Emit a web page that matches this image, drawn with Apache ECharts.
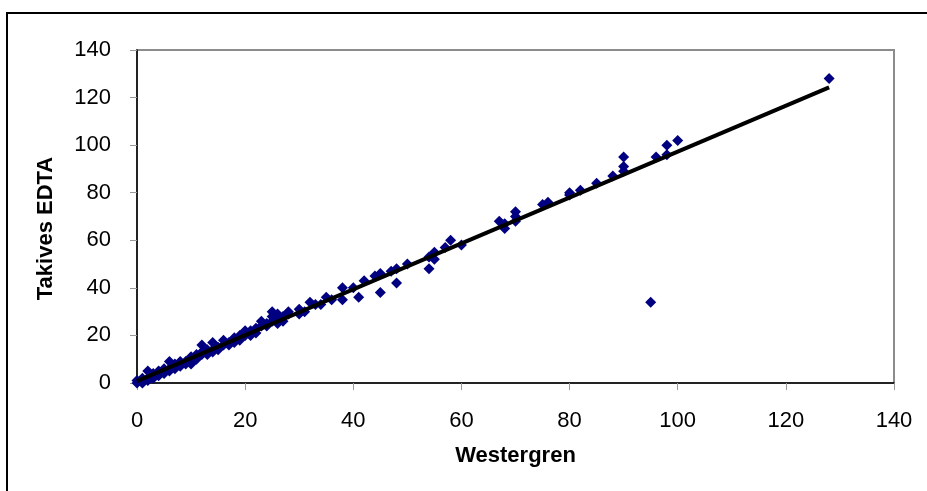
<!DOCTYPE html>
<html>
<head>
<meta charset="utf-8">
<title>Westergren vs Takives EDTA</title>
<script src="https://cdn.jsdelivr.net/npm/echarts@6/dist/echarts.min.js"></script>
<style>
  html, body { margin: 0; padding: 0; background: #fff; }
  #chart { width: 927px; height: 491px; }
</style>
</head>
<body>
<div id="chart"></div>
<script>
var westergren = [0, 0, 1, 1, 1, 2, 2, 2, 3, 3, 3, 4, 4, 4, 5, 5, 5, 6, 6, 6, 7, 7, 7, 8, 8, 8, 9, 9,
  10, 10, 10, 11, 11, 12, 12, 12, 13, 13, 14, 14, 14, 15, 15, 16, 16, 17, 17, 18, 18, 18, 19, 19,
  20, 20, 20, 21, 21, 22, 22, 23, 23, 24, 24, 25, 25, 25, 26, 26, 26, 27, 27, 28, 28, 30, 30, 31,
  32, 33, 34, 35, 36, 38, 38, 40, 41, 42, 44, 45, 45, 47, 48, 48, 50, 54, 54, 55, 55, 57, 58, 60,
  67, 68, 68, 70, 70, 70, 75, 76, 80, 80, 82, 85, 88, 90, 90, 90, 95, 96, 98, 98, 100, 128];
var takives = [0, 1, 0, 1, 2, 5, 2, 1, 3, 4, 2, 4, 3, 5, 4, 6, 5, 9, 6, 5, 6, 8, 7, 8, 9, 7, 9, 8,
  10, 8, 11, 10, 12, 16, 12, 13, 14, 12, 17, 14, 13, 15, 14, 18, 16, 17, 16, 17, 19, 18, 20, 18,
  22, 20, 21, 22, 20, 21, 23, 26, 24, 25, 24, 30, 26, 28, 25, 27, 29, 26, 28, 30, 29, 29, 31, 30,
  34, 33, 33, 36, 35, 40, 35, 40, 36, 43, 45, 46, 38, 47, 48, 42, 50, 48, 53, 55, 52, 57, 60, 58,
  68, 67, 65, 72, 70, 68, 75, 76, 80, 79, 81, 84, 87, 95, 91, 89, 34, 95, 100, 96, 102, 128];

// fitted line end points (Westergren, Takives)
var fitX = [0, 128];
var fitY = [0.8, 124.3];

var xTicks = [0, 20, 40, 60, 80, 100, 120, 140];
var yTicks = [0, 20, 40, 60, 80, 100, 120, 140];

var points = [];
for (var i = 0; i < westergren.length; i++) {
  points.push([westergren[i], takives[i]]);
}
var fitLine = [];
for (var j = 0; j < fitX.length; j++) {
  fitLine.push([fitX[j], fitY[j]]);
}

var chart = echarts.init(document.getElementById('chart'));

var option = {
  backgroundColor: '#fff',
  animation: false,
  textStyle: { fontFamily: 'Liberation Sans, Arial, sans-serif' },
  graphic: [{
    type: 'rect',
    shape: { x: 7, y: 13, width: 940, height: 500 },
    style: { fill: 'none', stroke: '#000', lineWidth: 2 },
    silent: true
  }],
  grid: {
    left: 137, right: 33, top: 50, bottom: 108,
    show: true,
    borderColor: '#8c8c8c',
    borderWidth: 2,
    backgroundColor: '#fff'
  },
  xAxis: {
    type: 'value',
    min: xTicks[0],
    max: xTicks[xTicks.length - 1],
    interval: 20,
    name: 'Westergren',
    nameLocation: 'middle',
    nameGap: 62,
    nameTextStyle: { fontSize: 22, fontWeight: 'bold', color: '#000' },
    axisLine: { show: true, onZero: false, lineStyle: { color: '#000', width: 1.5 } },
    axisTick: { show: true, inside: false, length: 7, lineStyle: { color: '#999' } },
    axisLabel: { fontSize: 22, color: '#000', margin: 27,
      showMinLabel: true, showMaxLabel: true },
    splitLine: { show: false }
  },
  yAxis: {
    type: 'value',
    min: yTicks[0],
    max: yTicks[yTicks.length - 1],
    interval: 20,
    name: 'Takives EDTA',
    nameLocation: 'middle',
    nameGap: 80,
    nameTextStyle: { fontSize: 22, fontWeight: 'bold', color: '#000', padding: [0, 24, 0, 0] },
    axisLine: { show: true, onZero: false, lineStyle: { color: '#000', width: 1.5 } },
    axisTick: { show: true, inside: false, length: 7, lineStyle: { color: '#999' } },
    axisLabel: { fontSize: 22, color: '#000', margin: 26 },
    splitLine: { show: false }
  },
  series: [
    {
      name: 'data',
      type: 'scatter',
      symbol: 'diamond',
      symbolSize: 11,
      itemStyle: { color: '#000080', opacity: 1 },
      data: points,
      z: 2
    },
    {
      name: 'fit',
      type: 'line',
      showSymbol: false,
      symbol: 'none',
      lineStyle: { color: '#000', width: 4 },
      data: fitLine,
      z: 3
    }
  ]
};

chart.setOption(option);
</script>
</body>
</html>
